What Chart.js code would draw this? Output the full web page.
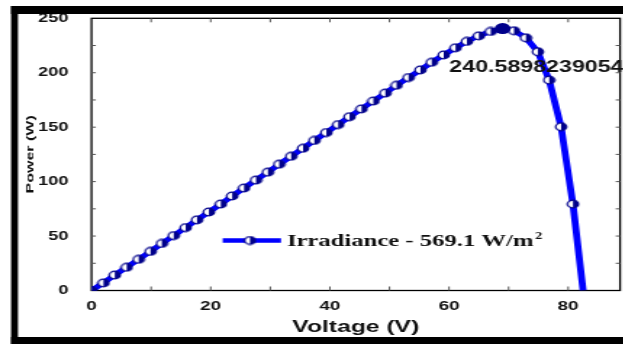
<!DOCTYPE html>
<html>
<head>
<meta charset="utf-8">
<script src="https://cdn.jsdelivr.net/npm/chart.js@4.4.1/dist/chart.umd.min.js"></script>
<style>
    html, body { margin: 0; padding: 0; background: #fff; }
    #wrap { width: 623px; height: 344px; overflow: hidden; position: relative; }
    /* the reference is stretched sideways, so the chart is drawn narrow and widened */
    #pvChart { display: block; transform: scaleX(1.45); transform-origin: 0 0; }
</style>
</head>
<body>
<div id="wrap"><canvas id="pvChart" width="430" height="344"></canvas></div>
<script>
// P-V curve values
const voltage = [0, 2.0, 3.9, 5.9, 7.9, 9.9, 11.8, 13.8, 15.8, 17.7, 19.7, 21.7, 23.6, 25.6, 27.6,
    29.6, 31.5, 33.5, 35.5, 37.4, 39.4, 41.4, 43.3, 45.3, 47.3, 49.3, 51.2, 53.2, 55.2, 57.1,
    59.1, 61.1, 63.0, 65.0, 67.0, 69.0, 70.9, 72.9, 74.9, 76.8, 78.8, 80.8, 82.5];
const power = [0, 7.0, 14.2, 21.3, 28.6, 35.9, 43.2, 50.4, 57.8, 64.9, 72.1, 79.4, 86.8, 94.1, 101.4,
    108.7, 116.0, 123.3, 130.6, 137.8, 145.1, 152.4, 159.6, 166.8, 174.0, 181.3, 188.5, 195.6, 202.6, 209.6,
    216.4, 222.9, 228.8, 233.9, 237.9, 240.59, 238.6, 232.1, 219.3, 193.3, 150.4, 79.4, 0];
const peakVoltage = 69.0;
const peakPower = 240.5898239054;

const xTicks = [0, 20, 40, 60, 80];
const yTicks = [0, 50, 100, 150, 200, 250];
const xMinorTicks = [10, 20, 30, 40, 50, 60, 70, 80];
const yMinorTicks = [25, 50, 75, 100, 125, 150, 175, 200, 225];

const legendText = 'Irradiance - 569.1 W/m';
const legendSup = '2';

const navy = '#00008b';
const blue = '#0000ff';

Chart.defaults.font.family = 'Arial, "Liberation Sans", Helvetica, sans-serif';
Chart.defaults.color = '#111';

function halfMarker(r) {
    const c = document.createElement('canvas');
    const s = Math.ceil(r * 2 + 2);
    c.width = s;
    c.height = s;
    const g = c.getContext('2d');
    const m = s / 2;
    g.beginPath();
    g.arc(m, m, r, 0, 2 * Math.PI);
    g.fillStyle = '#fff';
    g.fill();
    g.beginPath();
    g.moveTo(m, m - r);
    g.arc(m, m, r, -Math.PI / 2, Math.PI / 2);
    g.closePath();
    g.fillStyle = navy;
    g.fill();
    g.beginPath();
    g.arc(m, m, r, 0, 2 * Math.PI);
    g.lineWidth = 1.2;
    g.strokeStyle = navy;
    g.stroke();
    return c;
}
const marker = halfMarker(3.8);

// white page, box round the plot and inside ticks
const frame = {
    id: 'frame',
    beforeDraw(chart) {
        const ctx = chart.ctx;
        ctx.save();
        ctx.fillStyle = '#fff';
        ctx.fillRect(0, 0, chart.width, chart.height);
        ctx.restore();
    },
    beforeDatasetsDraw(chart) {
        const ctx = chart.ctx;
        const a = chart.chartArea;
        const x = chart.scales.x, y = chart.scales.y;
        ctx.save();
        ctx.strokeStyle = '#000';
        ctx.lineWidth = 1.3;
        ctx.strokeRect(a.left, a.top, a.right - a.left, a.bottom - a.top);
        ctx.lineWidth = 1;
        ctx.strokeStyle = '#555';
        ctx.beginPath();
        xMinorTicks.forEach(v => {
            const px = x.getPixelForValue(v);
            ctx.moveTo(px, a.bottom); ctx.lineTo(px, a.bottom - 4);
            ctx.moveTo(px, a.top); ctx.lineTo(px, a.top + 4);
        });
        yMinorTicks.forEach(v => {
            const py = y.getPixelForValue(v);
            ctx.moveTo(a.left, py); ctx.lineTo(a.left + 3, py);
            ctx.moveTo(a.right, py); ctx.lineTo(a.right - 3, py);
        });
        ctx.stroke();
        ctx.restore();
    },
    afterDraw(chart) {
        const ctx = chart.ctx;
        const a = chart.chartArea;
        const x = chart.scales.x, y = chart.scales.y;
        ctx.save();

        // y axis title, squeezed like the reference
        ctx.save();
        ctx.translate(21.4, (a.top + a.bottom) / 2);
        ctx.rotate(-Math.PI / 2);
        ctx.scale(1, 0.42);
        ctx.font = 'bold 16px Arial, "Liberation Sans", sans-serif';
        ctx.fillStyle = '#111';
        ctx.textAlign = 'center';
        ctx.textBaseline = 'middle';
        ctx.fillText('Power (W)', 0, 0);
        ctx.restore();

        // peak value label
        const px = x.getPixelForValue(peakVoltage);
        const py = y.getPixelForValue(peakPower);
        ctx.font = 'bold 16px Arial, "Liberation Sans", sans-serif';
        ctx.fillStyle = '#111';
        ctx.textAlign = 'left';
        ctx.textBaseline = 'alphabetic';
        ctx.fillText(String(peakPower), px - 36.8, py + 43);

        // legend inside the plot
        const ly = 240.5;
        ctx.strokeStyle = blue;
        ctx.lineWidth = 4.5;
        ctx.beginPath();
        ctx.moveTo(153.6, ly);
        ctx.lineTo(193.8, ly);
        ctx.stroke();
        ctx.drawImage(marker, 172.4 - marker.width / 2, ly - marker.height / 2);
        ctx.font = 'bold 17px "Times New Roman", "Liberation Serif", serif';
        ctx.fillStyle = '#111';
        ctx.fillText(legendText, 197.9, 246);
        const w = ctx.measureText(legendText).width;
        ctx.font = 'bold 10px "Times New Roman", "Liberation Serif", serif';
        ctx.fillText(legendSup, 197.9 + w + 1, 239);

        // black border bars of the picture
        ctx.fillStyle = '#000';
        ctx.fillRect(7.6, 6, chart.width, 8);
        ctx.fillRect(7.6, 6, 4.8, chart.height);
        ctx.fillRect(7.6, 337, chart.width, 7);
        ctx.restore();
    }
};

const points = voltage.map((v, i) => ({ x: v, y: power[i] }));
const radii = voltage.map((v, i) => (i === voltage.length - 1 ? 0 : 3.8));

const chart = new Chart(document.getElementById('pvChart'), {
    type: 'line',
    data: {
        datasets: [{
            label: 'Peak',
            data: [{ x: peakVoltage, y: peakPower }],
            showLine: false,
            pointRadius: 5.5,
            pointBackgroundColor: navy,
            pointBorderColor: navy,
            pointBorderWidth: 0,
            order: 0
        }, {
            label: 'Irradiance - 569.1 W/m2',
            data: points,
            borderColor: blue,
            borderWidth: 4.8,
            tension: 0,
            pointStyle: marker,
            pointRadius: radii,
            order: 1
        }]
    },
    options: {
        responsive: false,
        animation: false,
        events: [],
        layout: { autoPadding: false, padding: { left: 0, right: 2.4, top: 18.3, bottom: 0 } },
        plugins: {
            legend: { display: false },
            tooltip: { enabled: false }
        },
        scales: {
            x: {
                type: 'linear',
                min: 0,
                max: 88.7,
                grid: { display: false, drawTicks: false },
                border: { display: false },
                afterBuildTicks: s => { s.ticks = xTicks.map(v => ({ value: v })); },
                afterFit: s => { s.height = 53.5; s.paddingLeft = 0; s.paddingRight = 0; },
                ticks: { font: { size: 13, weight: 'bold' }, padding: 8, maxRotation: 0 },
                title: {
                    display: true,
                    text: 'Voltage (V)',
                    font: { size: 17, weight: 'bold' },
                    padding: { top: 0, bottom: 6 }
                }
            },
            y: {
                min: 0,
                max: 250,
                grid: { display: false, drawTicks: false },
                border: { display: false },
                afterBuildTicks: s => { s.ticks = yTicks.map(v => ({ value: v })); },
                afterFit: s => { s.width = 63.1; s.paddingTop = 0; s.paddingBottom = 0; },
                ticks: { font: { size: 12.5, weight: 'bold' }, padding: 16 }
            }
        }
    },
    plugins: [frame]
});

// pull the plot's right edge onto the reference's
for (let k = 0; k < 3; k++) {
    const d = chart.chartArea.right - 427.6;
    if (Math.abs(d) < 0.2) break;
    chart.options.layout.padding.right += d;
    chart.update();
}
</script>
</body>
</html>
